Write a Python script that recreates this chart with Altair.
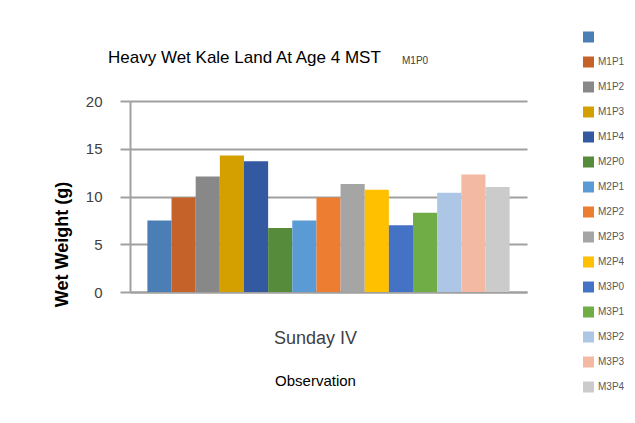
import altair as alt
import pandas as pd

category = ["Sunday IV"]
treatments = ["M1P0", "M1P1", "M1P2", "M1P3", "M1P4",
              "M2P0", "M2P1", "M2P2", "M2P3", "M2P4",
              "M3P0", "M3P1", "M3P2", "M3P3", "M3P4"]
weights = [7.5, 9.9, 12.1, 14.3, 13.7,
           6.7, 7.5, 9.9, 11.3, 10.7,
           7.0, 8.3, 10.4, 12.3, 11.0]
colors = ["#4A7EB5", "#C5622A", "#888888", "#D4A000", "#335AA0",
          "#558B3A", "#5B9BD5", "#ED7D31", "#A5A5A5", "#FFC000",
          "#4472C4", "#70AD47", "#ADC6E5", "#F4B9A2", "#CBCBCB"]
y_ticks = [0, 5, 10, 15, 20]

df = pd.DataFrame({
    "Observation": category * len(treatments),
    "Treatment": treatments,
    "Weight": weights,
})
note_df = pd.DataFrame({"label": [treatments[0]]})

W, H = 397, 191
GRID = "#a0a0a0"

bars = alt.Chart(df).mark_bar().encode(
    x=alt.X("Observation:N", title="Observation",
            scale=alt.Scale(paddingInner=0, paddingOuter=0.048),
            axis=alt.Axis(labelAngle=0, labelFontSize=18, labelColor="#404040",
                          labelPadding=37, labelOffset=-13, ticks=False, tickSize=0,
                          domainColor=GRID, domainWidth=2,
                          titleFontSize=15, titleFontWeight="normal", titleColor="#000000",
                          titleX=185, titleY=88, titleBaseline="middle", titleAlign="center")),
    xOffset=alt.XOffset("Treatment:N", sort=treatments,
                        scale=alt.Scale(paddingInner=0, paddingOuter=0)),
    y=alt.Y("Weight:Q", title="Wet Weight (g)",
            scale=alt.Scale(domain=[0, 20], nice=False),
            axis=alt.Axis(values=y_ticks, grid=True, gridColor=GRID, gridWidth=2,
                          domainColor=GRID, domainWidth=2,
                          tickColor=GRID, tickWidth=2, tickSize=10,
                          labelFontSize=15, labelColor="#404040", labelPadding=18,
                          titleFontSize=18, titleFontWeight="bold", titleColor="#000000",
                          titleAngle=270, titleX=-68, titleY=143,
                          titleAlign="center", titleBaseline="middle")),
    color=alt.Color("Treatment:N", sort=treatments,
                    scale=alt.Scale(domain=treatments, range=colors),
                    legend=alt.Legend(orient="none", legendX=453, legendY=-69.5,
                                      title=None, symbolType="square", symbolSize=121,
                                      symbolStrokeWidth=0, labelFontSize=10,
                                      labelColor="#595959", rowPadding=14, padding=0,
                                      labelOffset=4,
                                      labelExpr="datum.label == 'M1P0' ? '' : datum.label")),
)

note = alt.Chart(note_df).mark_text(
    fontSize=10, color="#404040", align="left", baseline="middle"
).encode(text="label:N", x=alt.value(272), y=alt.value(-40))

chart = alt.layer(bars, note).properties(
    width=W, height=H,
    autosize="none",
    padding={"left": 122, "top": 93, "right": 100, "bottom": 120},
    title=alt.TitleParams("Heavy Wet Kale Land At Age 4 MST", anchor="start", frame="group",
                          dx=-22, offset=-35, fontSize=17, fontWeight="normal",
                          color="#000000"),
).configure(font="Liberation Sans").configure_view(stroke=None)

chart.save("out.html", embed_options={"renderer": "svg", "actions": False})
